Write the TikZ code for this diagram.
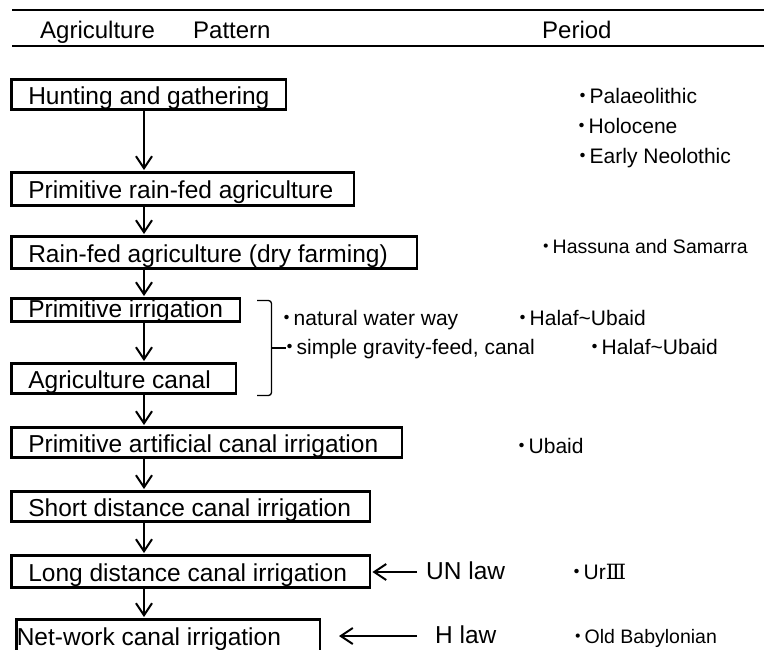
\documentclass[tikz,border=0pt]{standalone}
\usepackage{fontspec}
\setmainfont{Liberation Sans}
\newfontfamily\cjk{Noto Sans CJK JP}
\newfontfamily\numfont{DejaVu Serif}
\usetikzlibrary{arrows.meta}
% bullet cell: a katakana middle dot centred in a narrow box
\newcommand\bul{\makebox[13pt][c]{\cjk ・}}
% left-aligned stage label of fixed width
\newcommand\lbox[2]{\makebox[#1][l]{#2}}

\begin{document}
\begin{tikzpicture}[x=1pt,y=-1pt,
  rule/.style={line width=2.7pt},
  stage/.style={draw, line width=2.8pt, anchor=west, inner xsep=16.5pt, inner ysep=0pt,
    text height=22pt, text depth=3pt, font=\fontsize{24.5}{28}\selectfont},
  head/.style={anchor=base west, inner sep=0pt, font=\fontsize{24}{28}\selectfont},
  period/.style={anchor=base west, inner sep=0pt, font=\fontsize{21}{25}\selectfont},
  smallperiod/.style={period, font=\fontsize{19.5}{24}\selectfont},
  law/.style={anchor=base west, inner ysep=0pt, text height=14pt, text depth=0pt,
    font=\fontsize{24.5}{28}\selectfont},
  flow/.style={line width=2pt, shorten >=1pt, -{Straight Barb[length=12pt,width=16pt]}},
  brace/.style={line width=1.3pt, rounded corners=3pt}]
\useasboundingbox (0,0) rectangle (764,649);
\clip (0,0) rectangle (764,649);

% table header
\draw[rule] (12,10) -- (764,10);
\draw[rule] (12,46) -- (764,46);
\node[head] (hagr) at (40,38) {Agriculture};
\node[head] (hpat) at (193,38) {Pattern};
\node[head] (hper) at (542,38) {Period};

% agriculture stages
\node[stage, minimum height=30.2pt] (b1) at (10.4,94.5) {\lbox{241.2pt}{Hunting and gathering}};
\node[stage, minimum height=33.2pt] (b2) at (10.4,189) {\lbox{309.2pt}{Primitive rain-fed agriculture}};
\node[stage, minimum height=32.2pt] (b3) at (10.4,252.5) {\lbox{372.2pt}{Rain-fed agriculture (dry farming)}};
\node[stage, minimum height=23.2pt, text height=19pt, text depth=4pt] (b4) at (10.4,310) {\lbox{195.2pt}{Primitive irrigation}};
\node[stage, minimum height=30.2pt] (b5) at (10.4,378.5) {\lbox{191.2pt}{Agriculture canal}};
\node[stage, minimum height=30.2pt] (b6) at (10.4,442.5) {\lbox{357.2pt}{Primitive artificial canal irrigation}};
\node[stage, minimum height=30.2pt] (b7) at (10.4,506.5) {\lbox{325.2pt}{Short distance canal irrigation}};
\node[stage, minimum height=32.2pt] (b8) at (10.4,571.5) {\lbox{325.2pt}{Long distance canal irrigation}};
\node[stage, minimum height=32.2pt, inner xsep=0pt] (b9) at (15.4,635.5) {\lbox{303.2pt}{Net-work canal irrigation}};

% downward flow
\coordinate (axis) at (144,0);
\draw[flow] (b1.south -| axis) -- (b2.north -| axis);
\draw[flow] (b2.south -| axis) -- (b3.north -| axis);
\draw[flow] (b3.south -| axis) -- (b4.north -| axis);
\draw[flow] (b4.south -| axis) -- (b5.north -| axis);
\draw[flow] (b5.south -| axis) -- (b6.north -| axis);
\draw[flow] (b6.south -| axis) -- (b7.north -| axis);
\draw[flow] (b7.south -| axis) -- (b8.north -| axis);
\draw[flow] (b8.south -| axis) -- (b9.north -| axis);

% bracket grouping the two irrigation stages
\draw[brace] (257,300.5) -- (271.5,300.5) -- (271.5,395.5) -- (257,395.5);
\draw[line width=1.3pt] (271.5,348) -- (286,348);
\node[period] (w1) at (280.5,325) {\bul natural water way};
\node[period] (w2) at (283.5,354) {\bul simple gravity-feed, canal};

% laws
\node[law, inner xsep=9pt] (un) at (417,579) {UN law};
\draw[flow] (un.west) -- (b8.east |- un.west);
\node[law, inner xsep=18pt] (hl) at (417,643) {H law};
\coordinate (htip) at (338,0);
\draw[flow] (hl.west) -- (hl.west -| htip);

% periods
\node[period] (p1) at (576.5,103) {\bul Palaeolithic};
\node[period] (p2) at (575.5,133) {\bul Holocene};
\node[period] (p3) at (576.5,163) {\bul Early Neolothic};
\node[smallperiod] (p4) at (539.5,253) {\bul Hassuna and Samarra};
\node[period] (p5) at (516.5,325) {\bul Halaf\textasciitilde Ubaid};
\node[period] (p6) at (588.5,354) {\bul Halaf\textasciitilde Ubaid};
\node[period] (p7) at (515.5,453) {\bul Ubaid};
\node[period] (p8) at (570.5,579) {\bul Ur{\numfont Ⅲ}};
\node[smallperiod] (p9) at (571.5,643) {\bul Old Babylonian};
\end{tikzpicture}
\end{document}
